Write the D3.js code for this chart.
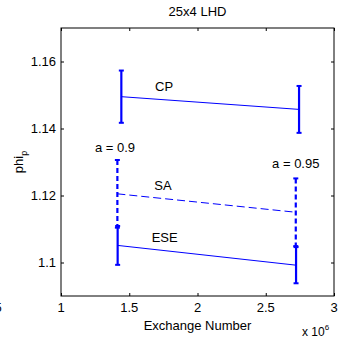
<!DOCTYPE html>
<html>
<head>
<meta charset="utf-8">
<script src="https://cdn.jsdelivr.net/npm/d3@7"></script>
<style>
  body { margin: 0; background: #fff; }
  text { font-family: "Liberation Sans", Arial, sans-serif; fill: #000; }
</style>
</head>
<body>
<div id="root"></div>
<script>
const width = 352;
const height = 339;
const margin = {left: 61, right: 18, top: 28, bottom: 43};
const fs = 13;

// data (x in units of 10^6 exchanges)
const series = ['CP', 'SA', 'ESE'];
const cpX = [1.442, 2.744];
const cpMean = [1.1495, 1.1457];
const cpErr = [0.0078, 0.0070];
const saX = [1.413, 2.72];
const saMean = [1.1205, 1.1150];
const saErr = [0.0101, 0.0101];
const eseX = [1.415, 2.722];
const eseMean = [1.1051, 1.0992];
const eseErr = [0.0058, 0.0054];
const xTicks = [0.5, 1, 1.5, 2, 2.5, 3];
const yTicks = [1.1, 1.12, 1.14, 1.16];
const notes = [
  {text: 'CP', x: 1.689, y: 1.1513, anchor: 'start'},
  {text: 'SA', x: 1.684, y: 1.1215, anchor: 'start'},
  {text: 'ESE', x: 1.664, y: 1.1061, anchor: 'start'},
  {text: 'a = 0.9', x: 1.396, y: 1.1331, anchor: 'middle'},
  {text: 'a = 0.95', x: 2.72, y: 1.1281, anchor: 'middle'}
];

const svg = d3.select('#root')
  .append('svg')
  .attr('width', width).attr('height', height);

const x = d3.scaleLinear().domain([1, 3]).range([margin.left, width - margin.right]);
const y = d3.scaleLinear().domain([1.09, 1.17]).range([height - margin.bottom, margin.top]);

const x0 = margin.left, x1 = width - margin.right;
const y0 = height - margin.bottom, y1 = margin.top;

// ticks on all four sides, pointing inward
const tick = 3;
svg.append('g').attr('transform', `translate(0,${y0})`)
  .call(d3.axisBottom(x).tickValues(xTicks.slice(1)).tickSizeInner(-tick).tickSizeOuter(0).tickFormat(''))
  .call(g => g.select('.domain').remove());
svg.append('g').attr('transform', `translate(0,${y1})`)
  .call(d3.axisTop(x).tickValues(xTicks.slice(1)).tickSizeInner(-tick).tickSizeOuter(0).tickFormat(''))
  .call(g => g.select('.domain').remove());
svg.append('g').attr('transform', `translate(${x0},0)`)
  .call(d3.axisLeft(y).tickValues(yTicks).tickSizeInner(-tick).tickSizeOuter(0).tickFormat(''))
  .call(g => g.select('.domain').remove());
svg.append('g').attr('transform', `translate(${x1},0)`)
  .call(d3.axisRight(y).tickValues(yTicks).tickSizeInner(-tick).tickSizeOuter(0).tickFormat(''))
  .call(g => g.select('.domain').remove());
svg.selectAll('.tick line').attr('stroke', '#000');

svg.append('rect')
  .attr('x', x0).attr('y', y1)
  .attr('width', x1 - x0).attr('height', y0 - y1)
  .attr('fill', 'none').attr('stroke', '#000').attr('stroke-width', 1);

// tick labels (the 0.5 label hangs off the left edge, as in the original)
svg.selectAll('.xlab').data(xTicks).enter().append('text')
  .attr('x', d => x(d)).attr('y', y0 + 16)
  .attr('text-anchor', 'middle').attr('font-size', fs)
  .text(d => d);
svg.selectAll('.ylab').data(yTicks).enter().append('text')
  .attr('x', x0 - 5).attr('y', d => y(d) + 4.5)
  .attr('text-anchor', 'end').attr('font-size', fs)
  .text(d => d);

// error bar series
const blue = '#0000ff';
const groups = [
  {name: 'CP', xs: cpX, m: cpMean, e: cpErr, dash: null},
  {name: 'SA', xs: saX, m: saMean, e: saErr, dash: true},
  {name: 'ESE', xs: eseX, m: eseMean, e: eseErr, dash: null}
];

groups.forEach(s => {
  const pts = s.xs.map((v, i) => ({x: v, m: s.m[i], e: s.e[i]}));
  const g = svg.append('g');
  g.append('path')
    .attr('d', d3.line().x(d => x(d.x)).y(d => y(d.m))(pts))
    .attr('fill', 'none').attr('stroke', blue).attr('stroke-width', 1)
    .attr('stroke-dasharray', s.dash ? '8,4' : null);
  g.selectAll('.bar').data(pts).enter().append('line')
    .attr('x1', d => x(d.x)).attr('x2', d => x(d.x))
    .attr('y1', d => y(d.m + d.e)).attr('y2', d => y(d.m - d.e))
    .attr('stroke', blue).attr('stroke-width', 2.2)
    .attr('stroke-dasharray', s.dash ? '5,3' : null);
  pts.forEach(d => {
    [d.m + d.e, d.m - d.e].forEach(v => {
      g.append('line')
        .attr('x1', x(d.x) - 2.5).attr('x2', x(d.x) + 2.5)
        .attr('y1', y(v)).attr('y2', y(v))
        .attr('stroke', blue).attr('stroke-width', 2);
    });
  });
});

// annotations
svg.selectAll('.note').data(notes).enter().append('text')
  .attr('x', d => x(d.x)).attr('y', d => y(d.y))
  .attr('text-anchor', d => d.anchor).attr('font-size', fs)
  .text(d => d.text);

// title and axis labels
svg.append('text')
  .attr('x', (x0 + x1) / 2).attr('y', 16)
  .attr('text-anchor', 'middle').attr('font-size', fs)
  .text('25x4 LHD');
svg.append('text')
  .attr('x', (x0 + x1) / 2).attr('y', 330)
  .attr('text-anchor', 'middle').attr('font-size', fs)
  .text('Exchange Number');

const yl = svg.append('text')
  .attr('transform', `translate(23,${(y0 + y1) / 2}) rotate(-90)`)
  .attr('text-anchor', 'middle').attr('font-size', fs);
yl.append('tspan').text('phi');
yl.append('tspan').attr('font-size', 9).attr('dy', 4).text('p');

const ex = svg.append('text')
  .attr('x', 302).attr('y', 336)
  .attr('font-size', 12);
ex.append('tspan').text('x 10');
ex.append('tspan').attr('font-size', 8).attr('dy', -6).text('6');
</script>
</body>
</html>
